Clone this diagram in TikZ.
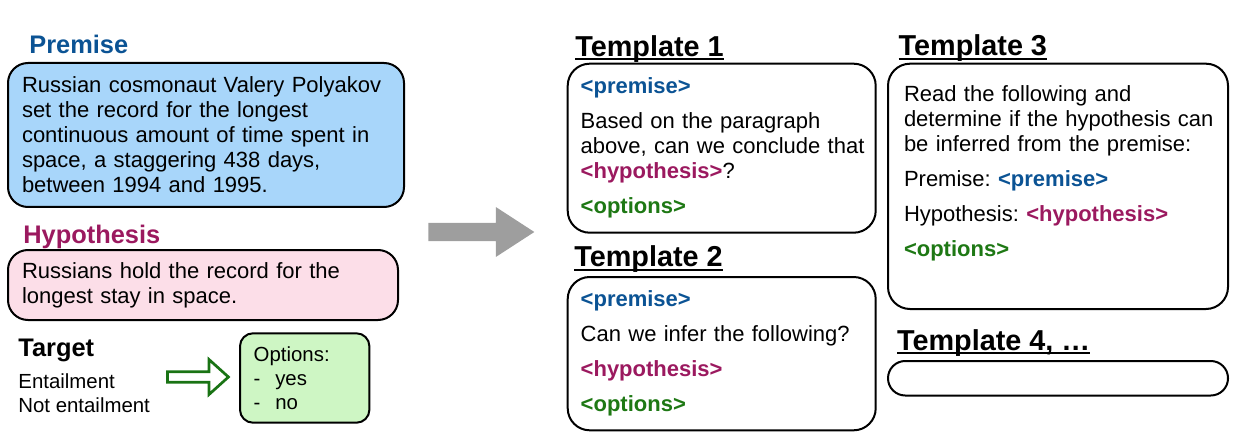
\documentclass[tikz,border=0pt]{standalone}
\usepackage{fontspec}
\setmainfont{Liberation Sans}
\usetikzlibrary{positioning,shapes.arrows}

\definecolor{premblue}{RGB}{11,83,148}
\definecolor{hypmagenta}{RGB}{155,25,95}
\definecolor{optgreen}{RGB}{30,120,20}
\definecolor{premfill}{RGB}{168,214,250}
\definecolor{hypfill}{RGB}{252,222,232}
\definecolor{optfill}{RGB}{206,246,196}
\definecolor{arrowgray}{RGB}{158,158,158}
\definecolor{hollowgreen}{RGB}{25,115,20}

% placeholders used inside the templates
\newcommand{\premisetag}{\textcolor{premblue}{\bfseries<premise>}}
\newcommand{\hypotag}{\textcolor{hypmagenta}{\bfseries<hypothesis>}}
\newcommand{\optionstag}{\textcolor{optgreen}{\bfseries<options>}}
% heading with a thick rule just under the baseline
\newcommand{\ulhead}[1]{\setbox0\hbox{#1}\rlap{\rule[-1.9pt]{\wd0}{1pt}}\box0}

\begin{document}
\begin{tikzpicture}[
    x=0.5pt, y=-0.5pt,
    font=\fontsize{11}{12.5}\selectfont\frenchspacing,
    every node/.style={inner sep=0pt},
    card/.style={draw, line width=1pt, rounded corners=10pt, anchor=north west, align=left, inner xsep=7pt, inner ysep=0pt},
    fieldhead/.style={anchor=base west, font=\fontsize{12.7}{15}\selectfont\bfseries},
    tplhead/.style={anchor=base west, font=\fontsize{14.4}{17}\selectfont\bfseries},
    small/.style={font=\fontsize{10.2}{12}\selectfont, align=left}
  ]
  \useasboundingbox (0,0) rectangle (1235,438);

  % input example
  \node[fieldhead, text=premblue] (premhead) at (29,53.3) {Premise};
  \node[card, fill=premfill, text width=184pt, minimum height=72pt] (premise) at (7,62)
    {Russian cosmonaut Valery Polyakov\\set the record for the longest\\continuous amount of time spent in\\space, a staggering 438 days,\\between 1994 and 1995.};

  \node[fieldhead, text=hypmagenta] (hyphead) at (23,243.3) {Hypothesis};
  \node[card, fill=hypfill, text width=181pt, minimum height=35pt] (hypothesis) at (7,249)
    {Russians hold the record for the\\longest stay in space.};

  \node[fieldhead] (target) at (18,356.7) {Target};
  \node[small, anchor=base west] (labels) at (18,412.7) {Entailment\\Not entailment};

  \node[single arrow, draw=hollowgreen, fill=white, line width=1.35pt, text height=3.95pt, text depth=0pt,
        minimum height=30.5pt, single arrow head extend=6.1pt, single arrow tip angle=84] (implies) at (195,377) {};
  \node[card, small, fill=optfill, rounded corners=6.5pt, inner xsep=6.85pt, text width=51pt, minimum height=44.7pt] (options) at (239,332.3)
    {Options:\\\makebox[10.8pt][l]{-}yes\\\makebox[10.8pt][l]{-}no};

  % into the templates
  \node[single arrow, fill=arrowgray, text height=8.7pt, text depth=0pt, minimum height=53pt,
        single arrow head extend=7.9pt, single arrow tip angle=66] (flow) at (474.3,232) {};

  \node[tplhead] (tpl1head) at (575,56.7) {\ulhead{Template 1}};
  \node[card, text width=141pt, inner xsep=6.5pt, minimum height=84.5pt, rounded corners=11pt] (tpl1) at (566.7,62.7)
    {\premisetag\\[5pt]Based on the paragraph\\\mbox{above, can we conclude that}\\\hypotag?\\[5pt]\optionstag};

  \node[tplhead] (tpl2head) at (574,266.7) {\ulhead{Template 2}};
  \node[card, text width=141pt, inner xsep=6.5pt, minimum height=76.65pt, rounded corners=11pt] (tpl2) at (566.7,276)
    {\premisetag\\[5pt]Can we infer the following?\\[5pt]\hypotag\\[5pt]\optionstag};

  \node[tplhead] (tpl3head) at (898.3,56) {\ulhead{Template 3}};
  \node[card, text width=154pt, inner xsep=8pt, minimum height=122.65pt, rounded corners=11pt] (tpl3) at (887,62.7)
    {Read the following and\\\mbox{determine if the hypothesis can}\\be inferred from the premise:\\[5pt]Premise: \premisetag\\[5pt]Hypothesis: \hypotag\\[5pt]\optionstag\rule[-15pt]{0pt}{15pt}};

  \node[tplhead] (tpl4head) at (896.7,350) {\ulhead{Template 4, …}};
  \node[card, minimum width=170pt, minimum height=17.25pt, rounded corners=8.6pt] (tpl4) at (887,360) {};
\end{tikzpicture}
\end{document}
